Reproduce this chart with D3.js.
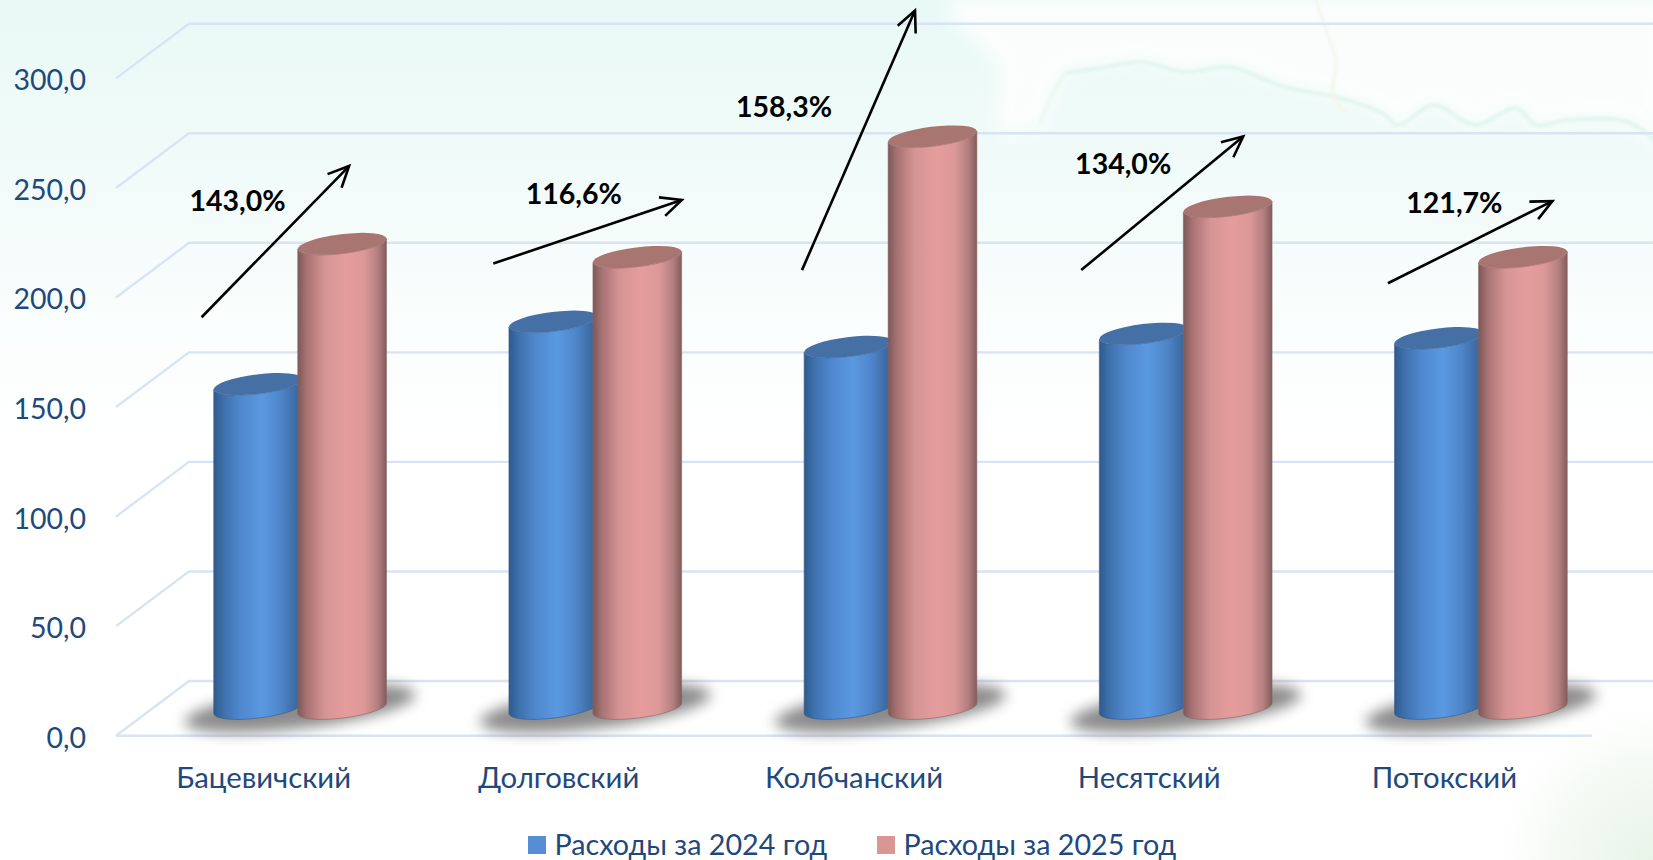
<!DOCTYPE html>
<html><head><meta charset="utf-8">
<script src="https://cdnjs.cloudflare.com/ajax/libs/d3/7.8.5/d3.min.js"></script>
<style>html,body{margin:0;padding:0;background:#fff;overflow:hidden}svg{display:block}text{font-family:Lato,"Noto Sans",sans-serif}</style>
</head><body><svg id="c" width="1653" height="860"></svg>
<script>
const categories = ["Бацевичский","Долговский","Колбчанский","Несятский","Потокский"];
const series2024 = [148, 176.5, 165, 171, 169];
const series2025 = [212, 206, 261, 229, 206];
const growthLabels = ["143,0%","116,6%","158,3%","134,0%","121,7%"];
const seriesNames = ["Расходы за 2024 год","Расходы за 2025 год"];
const yTicks = [0,50,100,150,200,250,300];

const W=1653,H=860;
const svg=d3.select("#c");
const defs=svg.append("defs");
const frontY0=735.7, unit=109.55/50, depthX=73, depthY=54.7;
const x=d3.scaleBand().domain(categories).range([116,1592]);
const y=d3.scaleLinear().domain([0,300]).range([frontY0,frontY0-300*unit]);
const midDX=depthX/2, midDY=depthY/2;
const yMid=v=>y(v)-midDY;

// background
const bg=defs.append("linearGradient").attr("id","bg").attr("x1",0).attr("x2",0).attr("y1",0).attr("y2",1);
[[0,"#e9f9f6"],[.2,"#f1fbf9"],[.42,"#fcfefe"],[.55,"#ffffff"],[1,"#ffffff"]].forEach(s=>bg.append("stop").attr("offset",s[0]).attr("stop-color",s[1]));
svg.append("rect").attr("width",W).attr("height",H).attr("fill","url(#bg)");
const cor=defs.append("radialGradient").attr("id","cor").attr("gradientUnits","userSpaceOnUse").attr("cx",W).attr("cy",H).attr("r",180);
cor.append("stop").attr("offset",0).attr("stop-color","#e8f4e8");
cor.append("stop").attr("offset",.55).attr("stop-color","#f5faf5");
cor.append("stop").attr("offset",1).attr("stop-color","#ffffff").attr("stop-opacity",0);
svg.append("rect").attr("x",W-260).attr("y",H-260).attr("width",260).attr("height",260).attr("fill","url(#cor)");
const blur=(id,s)=>defs.append("filter").attr("id",id).attr("x","-30%").attr("y","-60%").attr("width","160%").attr("height","220%").append("feGaussianBlur").attr("stdDeviation",s);
blur("b6",9);blur("b2",1.8);blur("b5",7);
// decorative map backdrop
const coast=[[1065,73],[1100,68],[1142,62],[1185,72],[1229,67],[1285,87],[1336,97],[1382,113],[1398,125],[1434,105],[1475,125],[1516,108],[1536,125],[1567,120],[1628,122],[1660,145]];
const inner=[[955,-5],[950,15],[975,40],[1000,70],[996,110],[1000,130],[1040,125]];
const ln=d3.line().curve(d3.curveCatmullRom);
svg.append("path").attr("d",ln(inner.concat(coast))+"L1670,-5Z").attr("fill","#fdfefd").attr("opacity",.9).attr("filter","url(#b6)");
svg.append("path").attr("d",ln(coast)).attr("fill","none").attr("stroke","#e2f5ee").attr("stroke-width",4).attr("filter","url(#b2)");
svg.append("path").attr("d",ln([[1040,125],[1052,95],[1065,73]])).attr("fill","none").attr("stroke","#ecf8f3").attr("stroke-width",4).attr("filter","url(#b2)");
svg.append("path").attr("d",ln([[1315,-2],[1326,30],[1336,62],[1333,95],[1345,112]])).attr("fill","none").attr("stroke","#f3f5ec").attr("stroke-width",3).attr("filter","url(#b2)");

// gridlines
const gridCol="#d8e4f4";
const gridG=svg.append("g").attr("fill","none").attr("stroke",gridCol).attr("stroke-width",2.4);
yTicks.forEach(t=>{
  gridG.append("path").attr("d",d3.line()([[x.range()[0],y(t)],[x.range()[0]+depthX,y(t)-depthY],[x.range()[1]+depthX,y(t)-depthY]]));
});
gridG.append("path").attr("d",d3.line()([[x.range()[0],y(0)],[x.range()[1],y(0)]]));

// axes
const navy="#1f497d";
const fmt=d3.format(".1f");
const yAxis=d3.axisLeft(y).tickValues(yTicks).tickSize(0).tickPadding(30).tickFormat(d=>fmt(d).replace(".",","));
const yg=svg.append("g").attr("transform","translate(116,0)").call(yAxis);
yg.select(".domain").remove();
yg.selectAll("text").attr("fill",navy).attr("font-size",28.5).attr("dy",".4em");
const xAxis=d3.axisBottom(x).tickSize(0).tickPadding(0);
const xg=svg.append("g").attr("transform",`translate(0,${frontY0+31})`).call(xAxis);
xg.select(".domain").remove();
xg.selectAll("text").attr("fill",navy).attr("font-size",29.3).attr("dy",".71em");

// cylinder gradients
const grad=(id,stops)=>{const g=defs.append("linearGradient").attr("id",id).attr("x1",0).attr("x2",1).attr("y1",0).attr("y2",0);
  stops.forEach(s=>g.append("stop").attr("offset",s[0]).attr("stop-color",s[1]));};
grad("gBlue",[[0,"#2f5a8e"],[.12,"#3f72ad"],[.3,"#4f88cf"],[.55,"#5a99e0"],[.75,"#4f86cb"],[.9,"#406fa8"],[1,"#34608f"]]);
grad("gPink",[[0,"#7c5859"],[.1,"#a87272"],[.3,"#d59494"],[.55,"#e59d9c"],[.75,"#dc9898"],[.9,"#b48080"],[1,"#835c5b"]]);

const barW=88.7, tilt=7, rad=tilt*Math.PI/180, minorR=9.7, seriesStep=84;
const rx=(barW/2)/Math.cos(rad), lift=rx*Math.sin(rad);
const barLeft=(c,i)=>x(c)+x.bandwidth()/2+midDX-(seriesStep+barW)/2+i*seriesStep;

// floor shadows
categories.forEach(c=>{
  const cx=x(c)+x.bandwidth()/2+midDX;
  svg.append("ellipse").attr("cx",cx).attr("cy",yMid(0)).attr("rx",116).attr("ry",20)
    .attr("transform",`rotate(${-tilt} ${cx} ${yMid(0)})`).attr("fill","#5e5e5e").attr("opacity",.72).attr("filter","url(#b5)");
});

function cylinder(c,i,v,fillId,cap,edge){
  const l=barLeft(c,i), r=l+barW, cx=l+barW/2, t=yMid(v), b=yMid(0);
  const g=svg.append("g");
  g.append("path").attr("d",`M${l},${t+lift}L${l},${b+lift}A${rx},${minorR} ${-tilt} 0 0 ${r},${b-lift}L${r},${t-lift}A${rx},${minorR} ${-tilt} 0 1 ${l},${t+lift}Z`)
    .attr("fill",`url(#${fillId})`).attr("stroke",edge).attr("stroke-width",.6);
  g.append("ellipse").attr("cx",cx).attr("cy",t).attr("rx",rx).attr("ry",minorR)
    .attr("transform",`rotate(${-tilt} ${cx} ${t})`).attr("fill",cap);
}
categories.forEach((c,k)=>{
  cylinder(c,0,series2024[k],"gBlue","#4470a6","#35598a");
  cylinder(c,1,series2025[k],"gPink","#a97571","#8a6463");
});

// growth arrows: offsets from category centre (px) and heights in value units
const arrowX=[[-62,85.5],[-65.5,123],[-52,61],[-68,94],[-56.5,108]];
const arrowV=[[191,260],[215.5,244.5],[212.5,331],[212.5,273.5],[206.5,244]];
const labelX=[-26,15,-70,-26,10];
const labelV=[239.5,242.7,282.5,256.2,238.4];
const lineAt=(k,j)=>[x(categories[k])+x.bandwidth()/2+arrowX[k][j], y(arrowV[k][j])];
const arrows=svg.append("g").attr("fill","none").attr("stroke","#000").attr("stroke-width",2.6);
categories.forEach((c,k)=>{
  const a=lineAt(k,0), e=lineAt(k,1);
  const ang=Math.atan2(e[1]-a[1],e[0]-a[0]), L=23, sp=.44;
  arrows.append("path").attr("d",d3.line()([a,e]));
  arrows.append("path").attr("d",d3.line()([
    [e[0]-L*Math.cos(ang-sp),e[1]-L*Math.sin(ang-sp)],e,[e[0]-L*Math.cos(ang+sp),e[1]-L*Math.sin(ang+sp)]]));
  svg.append("text").attr("x",x(c)+x.bandwidth()/2+labelX[k]).attr("y",y(labelV[k]))
    .attr("text-anchor","middle").attr("font-size",28.5).attr("font-weight",700).attr("fill","#000").text(growthLabels[k]);
});

// legend
const legendX=[528,877], legendCol=["#558ed5","#d99694"];
seriesNames.forEach((n,i)=>{
  svg.append("rect").attr("x",legendX[i]).attr("y",836).attr("width",18).attr("height",18).attr("fill",legendCol[i]);
  svg.append("text").attr("x",legendX[i]+26.5).attr("y",855).attr("font-size",28.7).attr("fill",navy).text(n);
});
</script></body></html>
